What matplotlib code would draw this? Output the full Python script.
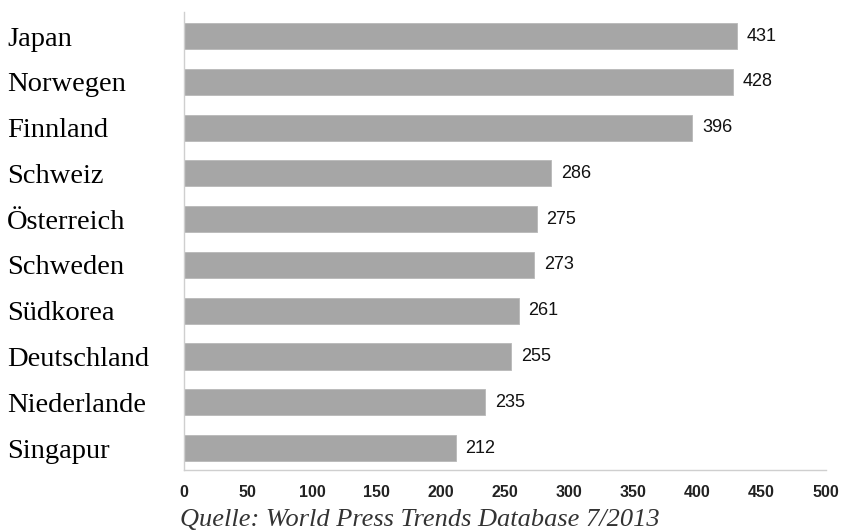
import numpy as np
import matplotlib
matplotlib.use("Agg")
from matplotlib import pyplot as plt

# data
countries = ["Japan", "Norwegen", "Finnland", "Schweiz", "Österreich",
             "Schweden", "Südkorea", "Deutschland", "Niederlande", "Singapur"]
values = [431, 428, 396, 286, 275, 273, 261, 255, 235, 212]
x_ticks = [0, 50, 100, 150, 200, 250, 300, 350, 400, 450, 500]
source = "Quelle: World Press Trends Database 7/2013"

fig = plt.figure(figsize=(8.43, 5.32), dpi=100)
ax = fig.add_axes([0.2177, 0.1165, 0.762, 0.8605])

y = np.arange(len(countries))
ax.barh(y, values, height=0.57, color="#a6a6a6", edgecolor="#b8b8b8", linewidth=0.6)
ax.set_ylim(len(countries) - 0.52, -0.52)
ax.set_xlim(0, 500)

# value labels right of each bar
for yi, v in zip(y, values):
    ax.annotate(str(v), (v, yi), xytext=(7, 0), textcoords="offset points",
                va="center", ha="left", fontsize=13, family="Liberation Sans", color="#111111")

ax.set_xticks(x_ticks)
ax.set_xticklabels([str(t) for t in x_ticks], fontsize=11.5, family="Liberation Sans",
                   fontweight="bold", color="#222222")
ax.tick_params(axis="x", length=0, pad=11)

ax.set_yticks(y)
ax.set_yticklabels(countries, fontsize=20.5, family="Liberation Serif", ha="left")
ax.tick_params(axis="y", length=0, pad=127)

for side in ["top", "right"]:
    ax.spines[side].set_visible(False)
for side in ["left", "bottom"]:
    ax.spines[side].set_color("#cfcfcf")
    ax.spines[side].set_linewidth(1.0)

fig.text(0.2135, 0.023, source, ha="left", va="center", fontsize=19,
         family="Liberation Serif", style="italic", color="#333333")

fig.savefig("out.png", dpi=100)
